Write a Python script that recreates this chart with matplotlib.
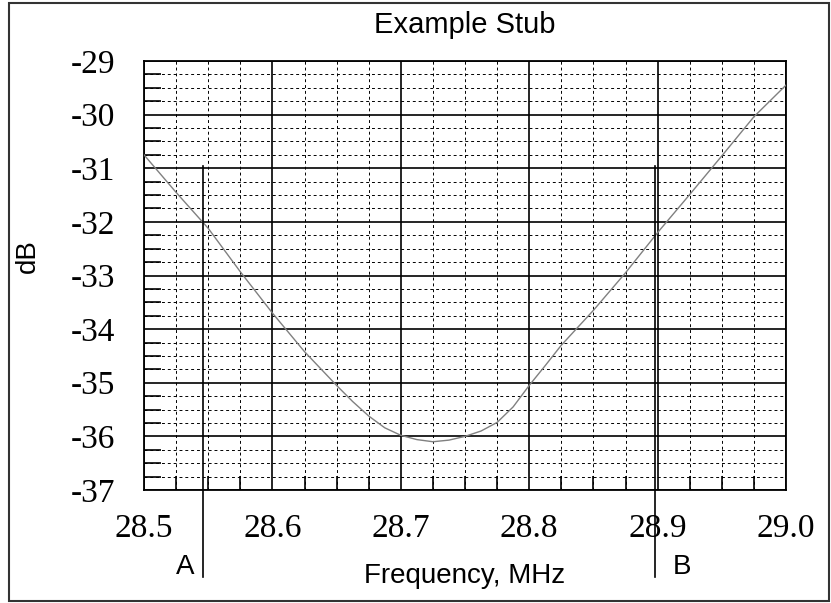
import numpy as np
import matplotlib.pyplot as plt
from matplotlib.ticker import MultipleLocator, FormatStrFormatter
from matplotlib.patches import Rectangle

# 频率 (MHz) 与 dB 读数
freq = [28.500, 28.525, 28.550, 28.575, 28.600, 28.625, 28.650, 28.6625,
        28.675, 28.6875, 28.700, 28.7125, 28.725, 28.7375, 28.750, 28.7625,
        28.775, 28.7875, 28.800, 28.8125, 28.825, 28.850, 28.875, 28.900,
        28.925, 28.950, 28.975, 29.000]
db = [-30.75, -31.45, -32.12, -32.93, -33.70, -34.42, -35.05, -35.35,
      -35.62, -35.84, -35.98, -36.06, -36.10, -36.07, -36.00, -35.90,
      -35.74, -35.45, -35.05, -34.68, -34.30, -33.65, -32.95, -32.20,
      -31.49, -30.77, -30.04, -29.45]

# 标记 A, B
marker_x = [28.546, 28.898]
marker_names = ['A', 'B']

x_ticks = [28.5, 28.6, 28.7, 28.8, 28.9, 29.0]
y_ticks = [-37, -36, -35, -34, -33, -32, -31, -30, -29]

fig = plt.figure(figsize=(8.31, 6.03), dpi=100)
ax = fig.add_axes([144/831, 1-490/603, 642/831, 429/603])

ax.plot(freq, db, color='#808080', lw=1.0, zorder=3)

ax.set_xlim(28.5, 29.0)
ax.set_ylim(-37, -29)
ax.set_xticks(x_ticks)
ax.set_yticks(y_ticks)
ax.xaxis.set_major_formatter(FormatStrFormatter('%.1f'))
ax.yaxis.set_major_formatter(FormatStrFormatter('%d'))
ax.xaxis.set_minor_locator(MultipleLocator(0.025))
ax.yaxis.set_minor_locator(MultipleLocator(0.25))

# 网格
ax.grid(which='major', color='black', lw=1.2, ls='-')
ax.grid(which='minor', color='black', lw=0.7, ls=(0, (3, 3)))
ax.set_axisbelow(True)

serif = 'Liberation Serif'
ax.tick_params(which='major', length=0, labelsize=24)
ax.tick_params(axis='x', which='major', pad=17)
ax.tick_params(axis='y', which='major', pad=21)
for lab in ax.get_xticklabels() + ax.get_yticklabels():
    lab.set_family(serif)
ax.tick_params(axis='y', which='minor', direction='in', length=12, width=1.2,
               left=True, right=False)
ax.tick_params(axis='x', which='minor', direction='in', length=10, width=1.2,
               bottom=True, top=False)

for s in ax.spines.values():
    s.set_linewidth(1.3)
    s.set_color('black')

# 标记线
for mx, name in zip(marker_x, marker_names):
    ax.axvline(mx, ymin=-0.203, ymax=0.755, color='black', lw=1.2,
               clip_on=False, zorder=4)
sans = 'Liberation Sans'
ax.annotate('A', xy=(marker_x[0], 0), xycoords=('data', 'axes fraction'),
            xytext=(-9, -77), textcoords='offset pixels', ha='right',
            va='center', fontsize=20, family=sans, annotation_clip=False)
ax.annotate('B', xy=(marker_x[1], 0), xycoords=('data', 'axes fraction'),
            xytext=(18, -77), textcoords='offset pixels', ha='left',
            va='center', fontsize=20, family=sans, annotation_clip=False)

fig.text(465/831, 1-25/603, 'Example Stub', ha='center', va='center',
         fontsize=21, family=sans)
fig.text(465/831, 1-576/603, 'Frequency, MHz', ha='center', va='center',
         fontsize=20, family=sans)
fig.text(28/831, 1-256/603, 'dB', ha='center', va='center', rotation=90,
         fontsize=20, family=sans)

# 外框
fig.patches.append(Rectangle((9/831, 1-601/603), 820/831, 598/603,
                             transform=fig.transFigure, fill=False,
                             edgecolor='#333333', lw=1.5))

fig.savefig('out.png', dpi=100)
